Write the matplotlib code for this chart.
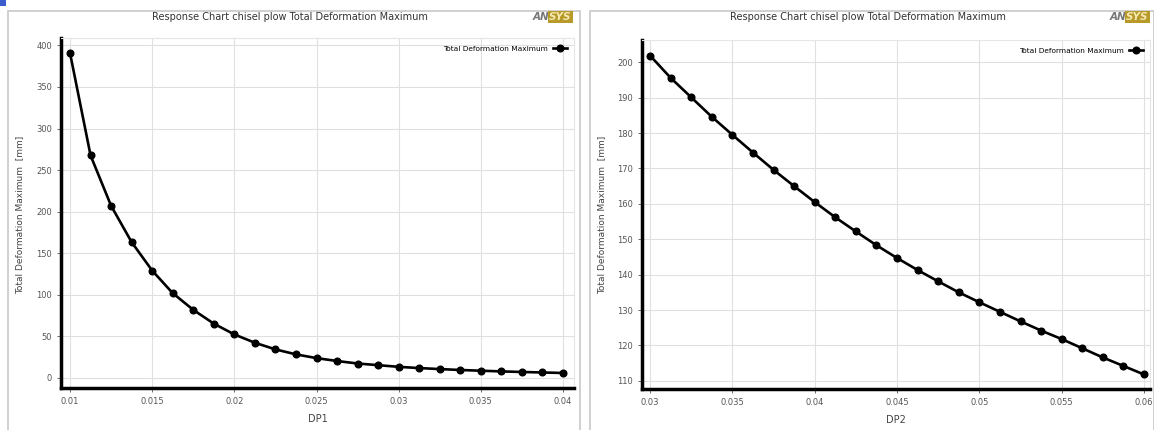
import matplotlib.pyplot as plt
from matplotlib.patches import Rectangle

# DP1 sweep (left chart)
dp1 = [0.01 + 0.00125 * i for i in range(25)]
deform_dp1 = [390.8, 267.5, 206.9, 163.1, 128.9, 101.7, 81.6, 65.0, 52.0, 42.0,
              34.0, 28.0, 23.5, 20.0, 17.0, 15.0, 13.0, 11.5, 10.3, 9.2,
              8.3, 7.5, 6.8, 6.2, 5.6]

# DP2 sweep (right chart)
dp2 = [0.03 + 0.00125 * i for i in range(25)]
deform_dp2 = [201.9, 195.6, 190.1, 184.6, 179.5, 174.5, 169.6, 165.0, 160.5, 156.2,
              152.2, 148.3, 144.7, 141.3, 138.1, 135.0, 132.2, 129.5, 126.8, 124.2,
              121.8, 119.2, 116.6, 114.2, 111.8]

x1_ticks = [0.01, 0.015, 0.02, 0.025, 0.03, 0.035, 0.04]
x2_ticks = [0.03, 0.035, 0.04, 0.045, 0.05, 0.055, 0.06]
y1_ticks = [0, 50, 100, 150, 200, 250, 300, 350, 400]
y2_ticks = [110, 120, 130, 140, 150, 160, 170, 180, 190, 200]

title = "Response Chart chisel plow Total Deformation Maximum"
series_name = "Total Deformation Maximum"
ylabel = "Total Deformation Maximum  [mm]"

fig = plt.figure(figsize=(11.54, 4.30), dpi=100)
W, H = 1154, 430


def px(x0, y0, x1, y1):
    # pixel box -> figure fraction [left, bottom, width, height]
    return [x0 / W, 1 - y1 / H, (x1 - x0) / W, (y1 - y0) / H]


# panel frames, kept behind the axes
for x0, x1 in [(8, 580), (590, 1154)]:
    l, b, w, h = px(x0, 11, x1, 432)
    fig.patches.append(Rectangle((l, b), w, h, transform=fig.transFigure,
                                 facecolor="white", edgecolor="#c8c8c8", lw=1.2,
                                 zorder=-10))

# small blue icon in the corner
l, b, w, h = px(0, 0, 6, 6)
fig.patches.append(Rectangle((l, b), w, h, transform=fig.transFigure,
                             facecolor="#3a5fcd", edgecolor="none", zorder=-10))


def draw(box, x, y, xticks, yticks, xlim, ylim, xlabel, title_x, logo_x, ylab_x):
    ax = fig.add_axes(px(*box))
    ax.set_zorder(5)
    ax.patch.set_alpha(0)
    ax.plot(x, y, color="black", lw=1.9, marker="o", ms=4.8, label=series_name)
    ax.set_xticks(xticks, [f"{t:g}" for t in xticks])
    ax.set_yticks(yticks)
    ax.set_xlim(*xlim)
    ax.set_ylim(*ylim)
    ax.grid(True, color="#e0e0e0", lw=0.8)
    for side in ["top", "right"]:
        ax.spines[side].set_color("#e6e6e6")
        ax.spines[side].set_linewidth(0.8)
    for side in ["left", "bottom"]:
        ax.spines[side].set_linewidth(2.5)
    ax.tick_params(labelsize=6, colors="#555555", length=3, width=0.6)
    ax.set_xlabel(xlabel, fontsize=7, color="#444444", labelpad=6)
    ax.legend(loc="upper right", frameon=False, fontsize=5.3, markerfirst=False,
              handlelength=1.8, borderaxespad=0.6)
    fig.text(ylab_x / W, 1 - 215 / H, ylabel, rotation=90, fontsize=6.5,
             color="#444444", ha="center", va="center")
    fig.text(title_x / W, 1 - 17 / H, title, fontsize=7, color="#333333",
             ha="center", va="center")
    fig.text(logo_x / W, 1 - 17 / H, "AN", fontsize=7.5, color="#777777",
             ha="right", va="center", style="italic", fontweight="bold")
    fig.text(logo_x / W, 1 - 17 / H, "SYS", fontsize=7.5, color="#f4e9b0",
             ha="left", va="center", style="italic", fontweight="bold",
             bbox=dict(boxstyle="square,pad=0.1", facecolor="#b89a2a", edgecolor="none"))
    return ax


draw((61, 38, 574, 388), dp1, deform_dp1, x1_ticks, y1_ticks,
     (0.00945, 0.04067), (-12.5, 409), "DP1", 290, 549, 20)
draw((642, 40, 1150, 389), dp2, deform_dp2, x2_ticks, y2_ticks,
     (0.02951, 0.06036), (107.7, 206.3), "DP2", 868, 1126, 602)

fig.savefig("out.png", dpi=100)
